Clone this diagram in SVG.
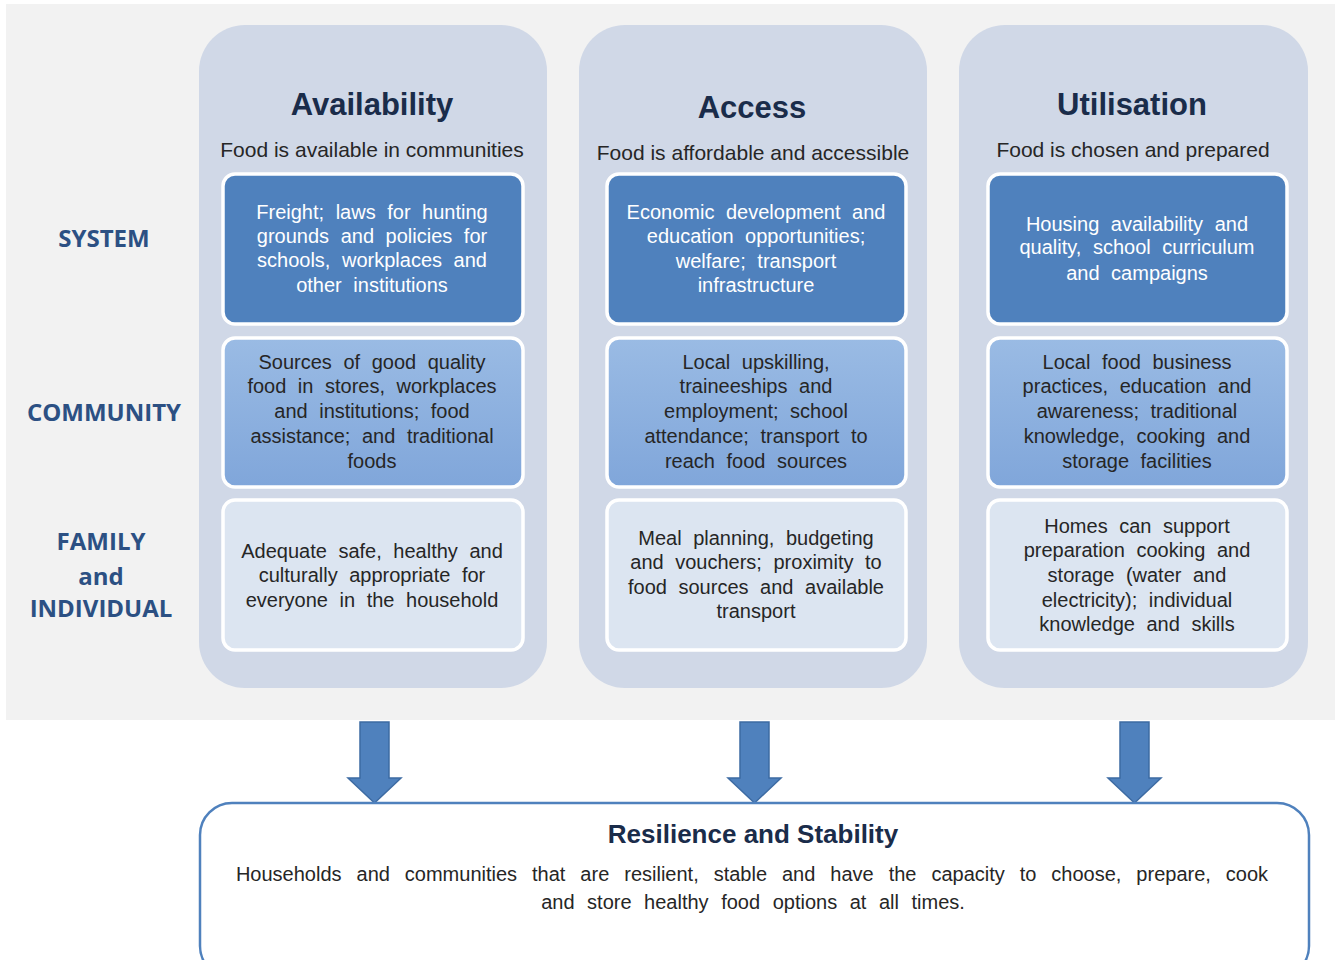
<svg xmlns="http://www.w3.org/2000/svg" width="1337" height="960" viewBox="0 0 1337 960">
  <style>
    .col { fill: #d0d8e7; }
    .box { stroke: #ffffff; stroke-width: 3.5; }
    .sys { fill: #4f81bd; }
    .com { fill: url(#comGrad); }
    .fam { fill: #dce5f1; }
    .head { font-family: "Liberation Sans", Arial, sans-serif; font-weight: bold; font-size: 31px; fill: #1a2c4a; text-anchor: middle; }
    .sub { font-family: "Liberation Sans", Arial, sans-serif; font-size: 21px; fill: #262626; text-anchor: middle; }
    .t { font-family: "Liberation Sans", Arial, sans-serif; font-size: 20px; text-anchor: middle; word-spacing: 6px; }
    .tw { fill: #ffffff; }
    .td { fill: #262626; }
    .lvl { font-family: "Open Sans", "Liberation Sans", sans-serif; font-weight: bold; font-size: 24px; fill: #2c5083; text-anchor: middle; }
    .arrow { fill: #4f81bd; stroke: #3d6ba3; stroke-width: 1.5; }
    .body { font-family: "Liberation Sans", Arial, sans-serif; font-size: 20px; fill: #262626; text-anchor: middle; word-spacing: 7px; }
    .body.wide { word-spacing: 9.4px; }
  </style>
  <defs>
    <linearGradient id="comGrad" x1="0" y1="0" x2="0" y2="1">
      <stop offset="0" stop-color="#9abbe4"/>
      <stop offset="1" stop-color="#80a6da"/>
    </linearGradient>
  </defs>

  <!-- page and background panel -->
  <rect x="0" y="0" width="1337" height="960" fill="#ffffff"/>
  <rect x="6" y="4" width="1329" height="716" fill="#f2f2f2"/>

  <!-- level labels -->
  <g id="levels">
    <text class="lvl" x="104" y="247">SYSTEM</text>
    <text class="lvl" x="104" y="421">COMMUNITY</text>
    <text class="lvl" x="101" y="550">FAMILY</text>
    <text class="lvl" x="101" y="585">and</text>
    <text class="lvl" x="101" y="617">INDIVIDUAL</text>
  </g>

  <!-- Availability column -->
  <g id="availability">
    <rect class="col" x="199" y="25" width="348" height="663" rx="46"/>
    <text class="head" x="372" y="115">Availability</text>
    <text class="sub" x="372" y="157">Food is available in communities</text>
    <rect class="box sys" x="223" y="174" width="300" height="150" rx="12"/>
    <text class="t tw" x="372" y="219">Freight; laws for hunting</text>
    <text class="t tw" x="372" y="243">grounds and policies for</text>
    <text class="t tw" x="372" y="267">schools, workplaces and</text>
    <text class="t tw" x="372" y="292">other institutions</text>
    <rect class="box com" x="223" y="338" width="300" height="149" rx="12"/>
    <text class="t td" x="372" y="369">Sources of good quality</text>
    <text class="t td" x="372" y="393">food in stores, workplaces</text>
    <text class="t td" x="372" y="418">and institutions; food</text>
    <text class="t td" x="372" y="443">assistance; and traditional</text>
    <text class="t td" x="372" y="468">foods</text>
    <rect class="box fam" x="223" y="500" width="300" height="150" rx="12"/>
    <text class="t td" x="372" y="558">Adequate safe, healthy and</text>
    <text class="t td" x="372" y="582">culturally appropriate for</text>
    <text class="t td" x="372" y="607">everyone in the household</text>
  </g>

  <!-- Access column -->
  <g id="access">
    <rect class="col" x="579" y="25" width="348" height="663" rx="46"/>
    <text class="head" x="752" y="118">Access</text>
    <text class="sub" x="753" y="160">Food is affordable and accessible</text>
    <rect class="box sys" x="607" y="174" width="299" height="150" rx="12"/>
    <text class="t tw" x="756" y="219">Economic development and</text>
    <text class="t tw" x="756" y="243">education opportunities;</text>
    <text class="t tw" x="756" y="268">welfare; transport</text>
    <text class="t tw" x="756" y="292">infrastructure</text>
    <rect class="box com" x="607" y="338" width="299" height="149" rx="12"/>
    <text class="t td" x="756" y="369">Local upskilling,</text>
    <text class="t td" x="756" y="393">traineeships and</text>
    <text class="t td" x="756" y="418">employment; school</text>
    <text class="t td" x="756" y="443">attendance; transport to</text>
    <text class="t td" x="756" y="468">reach food sources</text>
    <rect class="box fam" x="607" y="500" width="299" height="150" rx="12"/>
    <text class="t td" x="756" y="545">Meal planning, budgeting</text>
    <text class="t td" x="756" y="569">and vouchers; proximity to</text>
    <text class="t td" x="756" y="594">food sources and available</text>
    <text class="t td" x="756" y="618">transport</text>
  </g>

  <!-- Utilisation column -->
  <g id="utilisation">
    <rect class="col" x="959" y="25" width="349" height="663" rx="46"/>
    <text class="head" x="1132" y="115">Utilisation</text>
    <text class="sub" x="1133" y="157">Food is chosen and prepared</text>
    <rect class="box sys" x="988" y="174" width="299" height="150" rx="12"/>
    <text class="t tw" x="1137" y="231">Housing availability and</text>
    <text class="t tw" x="1137" y="254">quality, school curriculum</text>
    <text class="t tw" x="1137" y="280">and campaigns</text>
    <rect class="box com" x="988" y="338" width="299" height="149" rx="12"/>
    <text class="t td" x="1137" y="369">Local food business</text>
    <text class="t td" x="1137" y="393">practices, education and</text>
    <text class="t td" x="1137" y="418">awareness; traditional</text>
    <text class="t td" x="1137" y="443">knowledge, cooking and</text>
    <text class="t td" x="1137" y="468">storage facilities</text>
    <rect class="box fam" x="988" y="500" width="299" height="150" rx="12"/>
    <text class="t td" x="1137" y="533">Homes can support</text>
    <text class="t td" x="1137" y="557">preparation cooking and</text>
    <text class="t td" x="1137" y="582">storage (water and</text>
    <text class="t td" x="1137" y="607">electricity); individual</text>
    <text class="t td" x="1137" y="631">knowledge and skills</text>
  </g>

  <!-- block arrows into the outcome box -->
  <g id="connectors">
    <path class="arrow" d="M360 722 H389 V778 H401 L374.5 803 L348 778 H360 Z"/>
    <path class="arrow" d="M740 722 H769 V778 H781 L754.5 803 L728 778 H740 Z"/>
    <path class="arrow" d="M1120 722 H1149 V778 H1161 L1134.5 803 L1108 778 H1120 Z"/>
  </g>

  <!-- outcome box -->
  <g id="resilience">
    <rect x="200" y="803" width="1109" height="175" rx="32" fill="#ffffff" stroke="#4f81bd" stroke-width="2.5"/>
    <text x="753" y="843" font-family="Liberation Sans, Arial, sans-serif" font-weight="bold" font-size="26" fill="#1a2c4a" text-anchor="middle">Resilience and Stability</text>
    <text class="body wide" x="752" y="881">Households and communities that are resilient, stable and have the capacity to choose, prepare, cook</text>
    <text class="body" x="753" y="909">and store healthy food options at all times.</text>
  </g>
</svg>
